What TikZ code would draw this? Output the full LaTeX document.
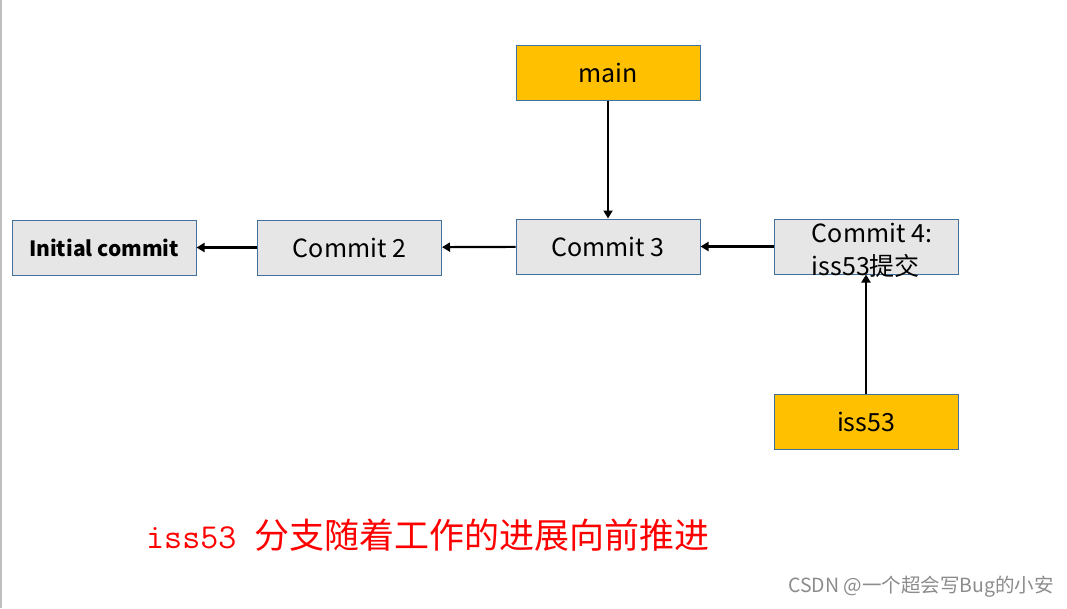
\documentclass[tikz,border=0pt]{standalone}
\usepackage{fontspec}
\newfontfamily\cjk{Noto Sans CJK SC}
\usetikzlibrary{arrows.meta}
\definecolor{boxedge}{HTML}{41719C}
\definecolor{greyfill}{HTML}{E7E6E6}
\definecolor{branchfill}{HTML}{FFC000}
\begin{document}
\begin{tikzpicture}[x=1pt,y=-1pt,
  commitbox/.style={draw=boxedge,line width=1pt,fill=greyfill,minimum width=184pt,minimum height=55pt,inner sep=0pt,font=\cjk\fontsize{25}{30}\selectfont,text=black},
  branchbox/.style={commitbox,fill=branchfill},
  link/.style={line width=2.2pt,-{Triangle[width=9pt,length=8pt]}}]
\useasboundingbox (0,0) rectangle (1067,608);
\fill[white] (0,0) rectangle (1067,608);
\draw[line width=1.5pt,color=black!25] (0.75,0) -- (0.75,608);
\node[commitbox] (c1) at (104,247.5) {\fontsize{21}{26}\selectfont\bfseries Initial commit};
\node[commitbox] (c2) at (349.5,247.5) {Commit 2};
\node[commitbox] (c3) at (608,246.5) {Commit 3};
\node[commitbox] (c4) at (866,246.5) {\hspace*{12pt}\smash{\raisebox{-12pt}{\renewcommand\arraystretch{1.1}\begin{tabular}{@{}l@{}}Commit 4:\\iss53提交\end{tabular}}}};
\node[branchbox] (main) at (608,72.5) {main};
\node[branchbox] (iss) at (866,421.5) {iss53};
\draw[link] (main) -- (c3);
\draw[link] (iss) -- (c4);
\draw[link] (c4) -- (c3);
\draw[link] (c3) -- (c2);
\draw[link] (c2) -- (c1);
\node[anchor=west,inner sep=0pt,text=red] (caption) at (146,535) {\fontsize{35}{40}\selectfont\ttfamily iss53 \cjk 分支随着工作的进展向前推进};
\node[anchor=east,inner sep=0pt,text=black!45] (mark) at (1054,587) {\cjk\fontsize{19.5}{22}\selectfont CSDN @一个超会写Bug的小安};
\end{tikzpicture}
\end{document}
